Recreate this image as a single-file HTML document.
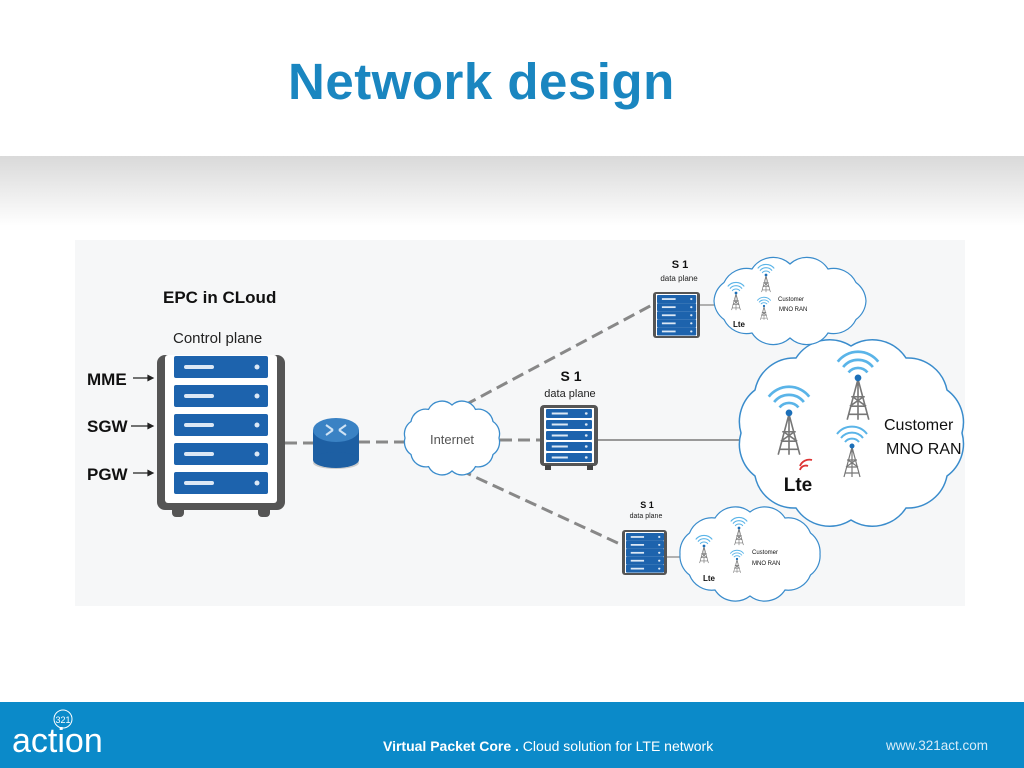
<!DOCTYPE html>
<html><head><meta charset="utf-8"><style>
html,body{margin:0;padding:0;width:1024px;height:768px;overflow:hidden;background:#fff;font-family:"Liberation Sans",sans-serif}
.hdr{position:absolute;left:0;top:156px;width:1024px;height:70px;background:linear-gradient(#d9d9d9,#ffffff)}
.title{position:absolute;left:288px;top:52px;font-size:51px;font-weight:bold;color:#1a86c0;letter-spacing:0.5px}
.foot{position:absolute;left:0;top:702px;width:1024px;height:66px;background:#0b8ac9;color:#fff}
svg{position:absolute;left:0;top:0}
</style></head><body>
<div class="hdr"></div>
<div class="title">Network design</div>
<svg width="1024" height="768" viewBox="0 0 1024 768">
<defs>
<g id="tw">
<path d="M0,-8 L-8,22 M0,-8 L8,22 M-5,5 L5,5 M-6,12 L6,12 M-7,18 L7,18 M-4,5 L6,12 M4,5 L-6,12 M0,-8 L0,22" stroke="#777" stroke-width="1.2" fill="none"/>
<circle cx="0" cy="-9" r="2.5" fill="#1c6fb8"/>
<path d="M-7,-13 A9,9 0 0 1 7,-13 M-11,-17 A14,14 0 0 1 11,-17 M-15,-21 A19,19 0 0 1 15,-21" stroke="#5ab4e8" stroke-width="2" fill="none"/>
</g>
<g id="bay"><rect x="0" y="0" width="94" height="22" rx="2" fill="#1d63ad"/><rect x="10" y="9" width="30" height="4" rx="2" fill="#dce8f5"/><circle cx="83" cy="11" r="2.5" fill="#dce8f5"/></g>
<g id="sbay"><rect x="0" y="0" width="40" height="9" rx="1" fill="#1d63ad"/><rect x="5" y="3.5" width="14" height="2" fill="#dce8f5"/><circle cx="35" cy="4.5" r="1.2" fill="#dce8f5"/></g>
</defs>
<rect x="75" y="240" width="890" height="366" fill="#f6f7f8"/>
<!-- connectors -->
<g stroke="#888" stroke-width="3" stroke-dasharray="12,6" fill="none">
<line x1="285" y1="443" x2="315" y2="443"/>
<line x1="358" y1="442" x2="408" y2="442"/>
<line x1="500" y1="440" x2="540" y2="440"/>
<line x1="465" y1="405" x2="652" y2="305"/>
<line x1="460" y1="470" x2="622" y2="545"/>
</g>
<line x1="598" y1="440" x2="742" y2="440" stroke="#999" stroke-width="2"/>
<line x1="700" y1="305" x2="715" y2="305" stroke="#999" stroke-width="1.5"/>
<line x1="667" y1="557" x2="683" y2="557" stroke="#999" stroke-width="1.5"/>
<!-- main rack -->
<text x="163" y="303" font-size="17" font-weight="bold" fill="#111">EPC in CLoud</text>
<text x="173" y="343" font-size="15" fill="#222">Control plane</text>
<rect x="172" y="505" width="12" height="12" rx="4" fill="#555"/><rect x="258" y="505" width="12" height="12" rx="4" fill="#555"/>
<rect x="157" y="355" width="128" height="155" rx="8" fill="#555"/>
<rect x="165" y="355" width="112" height="148" rx="3" fill="#fff"/>
<use href="#bay" x="174" y="356"/><use href="#bay" x="174" y="385"/><use href="#bay" x="174" y="414"/><use href="#bay" x="174" y="443"/><use href="#bay" x="174" y="472"/>
<g font-size="17" font-weight="bold" fill="#111">
<text x="87" y="385">MME</text><text x="87" y="432">SGW</text><text x="87" y="480">PGW</text></g>
<g stroke="#222" stroke-width="1.2" fill="#222">
<line x1="133" y1="378" x2="150" y2="378"/><path d="M153,378 l-5,-2.5 v5z"/>
<line x1="131" y1="426" x2="150" y2="426"/><path d="M153,426 l-5,-2.5 v5z"/>
<line x1="133" y1="473" x2="150" y2="473"/><path d="M153,473 l-5,-2.5 v5z"/>
</g>
<!-- router -->
<ellipse cx="336" cy="463" rx="23" ry="6" fill="#ccc"/>
<rect x="313" y="430" width="46" height="30" fill="#1d5fa3"/>
<ellipse cx="336" cy="460" rx="23" ry="8" fill="#1d5fa3"/>
<ellipse cx="336" cy="430" rx="23" ry="12" fill="#3a82c4"/>
<path d="M326,425 l7,5 M346,425 l-7,5 M326,435 l7,-5 M346,435 l-7,-5" stroke="#cfe3f5" stroke-width="2"/>
<!-- internet cloud -->
<path d="M499,438 A15,15 0 0 1 493,454.5 A15,15 0 0 1 475.5,466.6 A15,15 0 0 1 452,471 A15,15 0 0 1 428.5,466.6 A15,15 0 0 1 411,454.5 A15,15 0 0 1 405,438 A15,15 0 0 1 411,421.5 A15,15 0 0 1 428.5,409.4 A15,15 0 0 1 452,405 A15,15 0 0 1 475.5,409.4 A15,15 0 0 1 493,421.5 A15,15 0 0 1 499,438 Z" fill="#fff" stroke="#3a8ccc" stroke-width="1.3"/>
<text x="452" y="444" font-size="13" fill="#555" text-anchor="middle">Internet</text>
<!-- middle server -->
<text x="571" y="381" font-size="14" font-weight="bold" fill="#111" text-anchor="middle">S 1</text>
<text x="570" y="397" font-size="11" fill="#222" text-anchor="middle">data plane</text>
<rect x="540" y="405" width="58" height="61" rx="4" fill="#555"/>
<rect x="544" y="408" width="50" height="55" fill="#fff"/>
<rect x="545" y="465" width="6" height="5" fill="#444"/><rect x="587" y="465" width="6" height="5" fill="#444"/>
<g transform="translate(546,409) scale(1.15,1.0)"><use href="#sbay" y="0"/><use href="#sbay" y="11"/><use href="#sbay" y="22"/><use href="#sbay" y="33"/><use href="#sbay" y="44"/></g>
<!-- top server -->
<text x="680" y="268" font-size="11" font-weight="bold" fill="#111" text-anchor="middle">S 1</text>
<text x="679" y="281" font-size="8" fill="#222" text-anchor="middle">data plane</text>
<rect x="653" y="292" width="47" height="46" rx="3" fill="#555"/>
<rect x="656" y="294" width="41" height="42" fill="#fff"/>
<g transform="translate(657,295) scale(0.98,0.9)"><use href="#sbay" y="0"/><use href="#sbay" y="9"/><use href="#sbay" y="18"/><use href="#sbay" y="27"/><use href="#sbay" y="36"/></g>
<!-- bottom server -->
<text x="647" y="508" font-size="9" font-weight="bold" fill="#111" text-anchor="middle">S 1</text>
<text x="646" y="518" font-size="7" fill="#222" text-anchor="middle">data plane</text>
<rect x="622" y="530" width="45" height="45" rx="3" fill="#555"/>
<rect x="625" y="532" width="39" height="41" fill="#fff"/>
<g transform="translate(626,533) scale(0.95,0.88)"><use href="#sbay" y="0"/><use href="#sbay" y="9"/><use href="#sbay" y="18"/><use href="#sbay" y="27"/><use href="#sbay" y="36"/></g>
<!-- big cloud -->
<path d="M962,433 A40,40 0 0 1 947,476 A40,40 0 0 1 906,508 A40,40 0 0 1 851,520 A40,40 0 0 1 796,508 A40,40 0 0 1 755,476 A40,40 0 0 1 741,433 A40,40 0 0 1 755,390 A40,40 0 0 1 796,358 A40,40 0 0 1 851,346 A40,40 0 0 1 906,358 A40,40 0 0 1 947,390 A40,40 0 0 1 962,433 Z" fill="#fff" stroke="#3a8ccc" stroke-width="1.5"/>
<use href="#tw" transform="translate(789,425) scale(1.35)"/>
<use href="#tw" transform="translate(858,390) scale(1.35)"/>
<use href="#tw" transform="translate(852,455) scale(1.0)"/>
<text x="798" y="491" font-size="19" font-weight="bold" fill="#111" text-anchor="middle">Lte</text>
<path d="M800,470 a6,6 0 0 1 8,-4 M800,466 a10,10 0 0 1 12,-6" stroke="#d33" stroke-width="1.8" fill="none"/>
<text x="884" y="430" font-size="16" fill="#111">Customer</text>
<text x="886" y="454" font-size="16" fill="#111">MNO RAN</text>
<!-- top small cloud -->
<path d="M866,301 A25,25 0 0 1 856,319.5 A25,25 0 0 1 828,333 A25,25 0 0 1 790,338 A25,25 0 0 1 752,333 A25,25 0 0 1 724,319.5 A25,25 0 0 1 714,301 A25,25 0 0 1 724,282.5 A25,25 0 0 1 752,269 A25,25 0 0 1 790,264 A25,25 0 0 1 828,269 A25,25 0 0 1 856,282.5 A25,25 0 0 1 866,301 Z" fill="#fff" stroke="#3a8ccc" stroke-width="1.2"/>
<use href="#tw" transform="translate(736,298) scale(0.55)"/>
<use href="#tw" transform="translate(766,280) scale(0.55)"/>
<use href="#tw" transform="translate(764,310) scale(0.45)"/>
<text x="739" y="327" font-size="8" font-weight="bold" fill="#111" text-anchor="middle">Lte</text>
<text x="778" y="301" font-size="6" fill="#111">Customer</text>
<text x="779" y="311" font-size="6" fill="#111">MNO RAN</text>
<!-- bottom small cloud -->
<path d="M820,554 A24,24 0 0 1 810.5,575 A24,24 0 0 1 785,590 A24,24 0 0 1 750,596 A24,24 0 0 1 715,590 A24,24 0 0 1 689.5,575 A24,24 0 0 1 680,554 A24,24 0 0 1 689.5,533 A24,24 0 0 1 715,518 A24,24 0 0 1 750,512 A24,24 0 0 1 785,518 A24,24 0 0 1 810.5,533 A24,24 0 0 1 820,554 Z" fill="#fff" stroke="#3a8ccc" stroke-width="1.2"/>
<use href="#tw" transform="translate(704,551) scale(0.55)"/>
<use href="#tw" transform="translate(739,533) scale(0.55)"/>
<use href="#tw" transform="translate(737,563) scale(0.45)"/>
<text x="709" y="581" font-size="8" font-weight="bold" fill="#111" text-anchor="middle">Lte</text>
<text x="752" y="554" font-size="6" fill="#111">Customer</text>
<text x="752" y="565" font-size="6" fill="#111">MNO RAN</text>
</svg>
<div class="foot">
<svg width="120" height="66" style="left:0;top:0"><circle cx="63" cy="17" r="9" fill="none" stroke="#fff" stroke-width="1"/><text x="63" y="21" font-size="9" fill="#fff" text-anchor="middle">321</text></svg>
<div style="position:absolute;left:12px;top:20px;font-size:34px;font-weight:300;letter-spacing:0">action</div>
<div style="position:absolute;left:383px;top:36px;font-size:14px"><b>Virtual Packet Core</b> <b>.</b> Cloud solution for LTE network</div>
<div style="position:absolute;left:886px;top:36px;font-size:13.5px;color:#d8ecf8">www.321act.com</div>
</div>
</body></html>
